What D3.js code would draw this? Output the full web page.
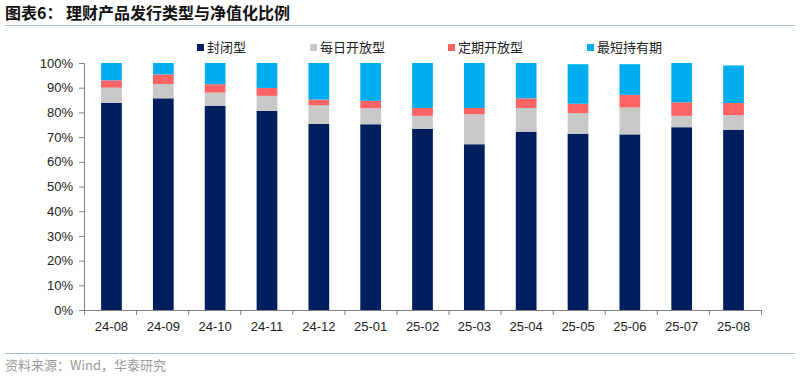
<!DOCTYPE html>
<html>
<head>
<meta charset="utf-8">
<script src="https://cdn.jsdelivr.net/npm/d3@7"></script>
<style>
  body { margin: 0; background: #fff; }
  text { font-family: "Liberation Sans", Arial, sans-serif; }
  .cjk { font-family: "Noto Sans CJK SC", sans-serif; }
</style>
</head>
<body>
<div id="chart"></div>
<script>
// months
var months = ["24-08", "24-09", "24-10", "24-11", "24-12", "25-01", "25-02",
              "25-03", "25-04", "25-05", "25-06", "25-07", "25-08"];
// shares in %
var closedType   = [83.9, 85.7, 82.7, 80.6, 75.3, 75.2, 73.3, 67.1, 72.2, 71.4, 71.1, 74.0, 73.0];
var dailyOpen    = [6.1, 5.8, 5.3, 6.1, 7.6, 6.5, 5.3, 12.1, 9.6, 8.3, 10.9, 4.6, 5.9];
var periodicOpen = [3.0, 3.9, 3.4, 3.2, 2.3, 3.0, 3.2, 2.6, 3.9, 3.8, 5.1, 5.5, 4.9];
var minHolding   = [7.0, 4.6, 8.6, 10.1, 14.8, 15.3, 18.2, 18.2, 14.3, 16.0, 12.4, 15.9, 15.2];
var seriesNames  = ["封闭型", "每日开放型", "定期开放型", "最短持有期"];
var yTicks = [0, 10, 20, 30, 40, 50, 60, 70, 80, 90, 100];

var width = 800, height = 378;
var margin = { left: 84, top: 63, right: 39, bottom: 68 };
var colors = ["#001F5F", "#C9C9C9", "#FF6464", "#00AEEF"];

var svg = d3.select("#chart").append("svg")
    .attr("width", width)
    .attr("height", height);

// title + rules
svg.append("text").attr("class", "cjk")
    .attr("x", 5).attr("y", 19)
    .style("font-size", "16px").style("font-weight", "bold").style("fill", "#111")
    .text("图表6：  理财产品发行类型与净值化比例");
svg.append("line").attr("x1", 5).attr("x2", 795).attr("y1", 25.5).attr("y2", 25.5)
    .attr("stroke", "#A9BCD0").attr("stroke-width", 1.2);
svg.append("line").attr("x1", 5).attr("x2", 795).attr("y1", 353.5).attr("y2", 353.5)
    .attr("stroke", "#A9BCD0").attr("stroke-width", 1);
svg.append("text").attr("class", "cjk")
    .attr("x", 5).attr("y", 370)
    .style("font-size", "13px").style("fill", "#9A9A9A")
    .text("资料来源：Wind，华泰研究");

var plotW = width - margin.left - margin.right;
var plotH = height - margin.top - margin.bottom;
var g = svg.append("g").attr("transform", `translate(${margin.left},${margin.top})`);

var x = d3.scaleBand().domain(months).range([0, plotW]).paddingInner(0.6).paddingOuter(0.33);
var xEdge = d3.scaleLinear().domain([0, months.length]).range([0, plotW]);
var y = d3.scaleLinear().domain([0, 100]).range([plotH, 0]);

// stack the data
var rows = months.map(function (m, i) {
    return { month: m, s0: closedType[i], s1: dailyOpen[i], s2: periodicOpen[i], s3: minHolding[i] };
});
var stack = d3.stack().keys(["s0", "s1", "s2", "s3"])(rows);

g.selectAll(".layer")
    .data(stack)
    .join("g")
    .attr("class", "layer")
    .attr("fill", (d, i) => colors[i])
    .selectAll("rect")
    .data(d => d)
    .join("rect")
    .attr("x", d => x(d.data.month))
    .attr("y", d => y(d[1]))
    .attr("width", x.bandwidth())
    .attr("height", d => y(d[0]) - y(d[1]));

// y axis
var yAxis = g.append("g")
    .call(d3.axisLeft(y).tickValues(yTicks).tickFormat(d => d + "%").tickSizeOuter(0).tickSize(5));
yAxis.select(".domain").attr("stroke", "#808080");
yAxis.selectAll(".tick line").attr("stroke", "#808080");
yAxis.selectAll(".tick text").attr("x", -11).style("font-size", "13px").style("fill", "#222")
    .style("font-family", "Liberation Sans, Arial, sans-serif");

// x axis: ticks on category edges, labels centered
var xTicks = g.append("g")
    .attr("transform", `translate(0,${plotH})`)
    .call(d3.axisBottom(xEdge).tickValues(d3.range(months.length + 1)).tickFormat("").tickSize(5).tickSizeOuter(0));
xTicks.select(".domain").attr("stroke", "#808080");
xTicks.selectAll(".tick line").attr("stroke", "#808080");

var xLabels = g.append("g")
    .attr("transform", `translate(0,${plotH})`)
    .call(d3.axisBottom(x).tickSize(0));
xLabels.select(".domain").remove();
xLabels.selectAll(".tick text").attr("y", 12).style("font-size", "13px").style("fill", "#222")
    .style("font-family", "Liberation Sans, Arial, sans-serif");

// legend
var legendX = [197, 310, 448, 587];
var legend = svg.append("g").selectAll("g")
    .data(seriesNames)
    .join("g")
    .attr("transform", (d, i) => `translate(${legendX[i]},44)`);
legend.append("rect").attr("width", 7).attr("height", 7).attr("fill", (d, i) => colors[i]);
legend.append("text").attr("class", "cjk")
    .attr("x", 10).attr("y", 8)
    .style("font-size", "13px").style("fill", "#222")
    .text(d => d);
</script>
</body>
</html>
